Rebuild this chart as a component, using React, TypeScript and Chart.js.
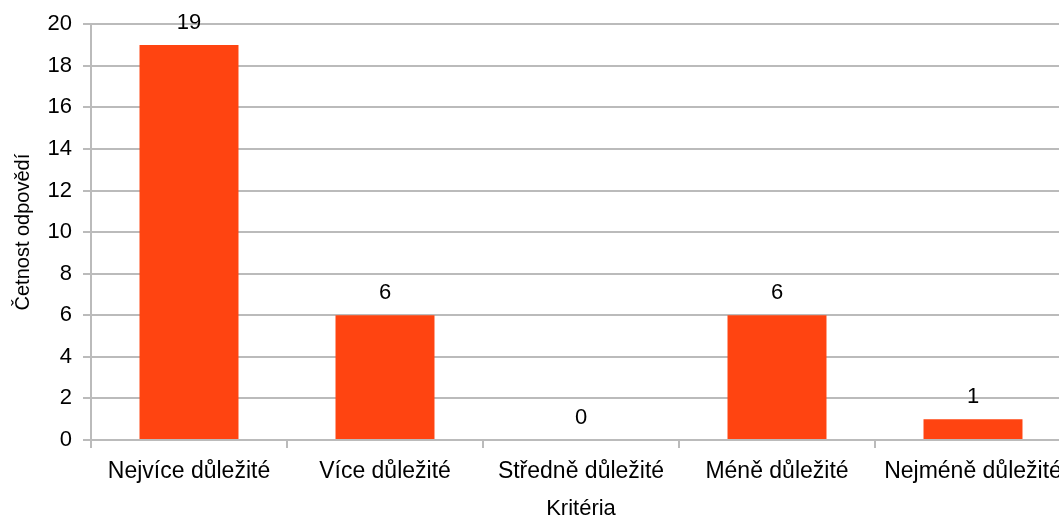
import React, { useEffect, useRef } from "react";
import { Chart, registerables } from "chart.js";

Chart.register(...registerables);

const categories = ["Nejvíce důležité", "Více důležité", "Středně důležité", "Méně důležité", "Nejméně důležité"];
const counts = [19, 6, 0, 6, 1];
const yTitle = "Četnost odpovědí";
const xTitle = "Kritéria";

const FONT = "'Liberation Sans', Arial, sans-serif";

const valueLabels = {
  id: "valueLabels",
  afterDatasetsDraw(chart: any) {
    const ctx = chart.ctx;
    const meta = chart.getDatasetMeta(0);
    ctx.save();
    ctx.fillStyle = "#000";
    ctx.font = `22px ${FONT}`;
    ctx.textAlign = "center";
    ctx.textBaseline = "middle";
    meta.data.forEach((bar: any, i: number) => {
      const v = chart.data.datasets[0].data[i];
      ctx.fillText(String(v), bar.x, bar.y - 22);
    });
    ctx.restore();
  },
};

export default function App() {
  const ref = useRef<HTMLCanvasElement>(null);
  useEffect(() => {
    const chart = new Chart(ref.current!, {
      type: "bar",
      data: {
        labels: categories,
        datasets: [
          {
            data: counts,
            backgroundColor: "#FF4411",
            borderWidth: 0,
            categoryPercentage: 1,
            barPercentage: 0.505,
          },
        ],
      },
      options: {
        responsive: false,
        animation: false,
        layout: { padding: { top: 24, right: 4, left: 0, bottom: 0 } },
        plugins: { legend: { display: false }, tooltip: { enabled: false } },
        scales: {
          x: {
            afterFit: (s: any) => { s.height = 75; },
            grid: { drawOnChartArea: false, drawTicks: true, tickLength: 8, color: "#bbbbbb", lineWidth: 2 },
            border: { color: "#bbbbbb", width: 2 },
            ticks: { color: "#000", font: { family: FONT, size: 23 }, padding: 10, maxRotation: 0, autoSkip: false },
            title: { display: true, text: xTitle, color: "#000", font: { family: FONT, size: 22 }, padding: { top: 0, bottom: -7 } },
          },
          y: {
            min: 0,
            max: 20,
            afterFit: (s: any) => { s.width = 91; },
            ticks: { stepSize: 2, color: "#000", font: { family: FONT, size: 22 }, padding: 11 },
            grid: { color: "#bbbbbb", lineWidth: 2, tickLength: 8 },
            border: { color: "#bbbbbb", width: 2 },
            title: { display: true, text: yTitle, color: "#000", font: { family: FONT, size: 20 }, padding: { top: 11, bottom: 0 } },
          },
        },
      },
      plugins: [valueLabels],
    });
    return () => chart.destroy();
  }, []);
  return (
    <div style={{ position: "absolute", left: 0, top: 0, width: 1059, height: 515, overflow: "hidden", background: "#fff" }}>
      <canvas ref={ref} width={1075} height={515} style={{ display: "block" }} />
    </div>
  );
}
